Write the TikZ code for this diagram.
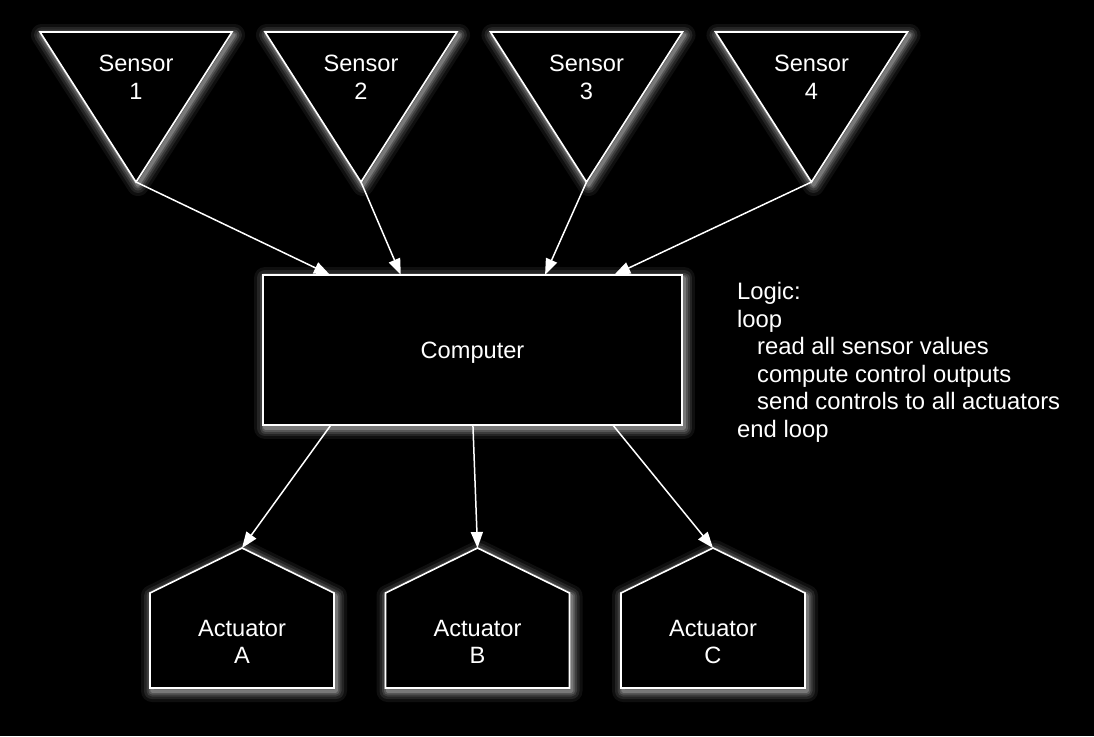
\documentclass[tikz,border=0pt]{standalone}
\usepackage{fontspec}
\setmainfont{Liberation Sans}
\usetikzlibrary{arrows.meta,calc}
\tikzset{
  shapeline/.style={draw=white, fill=black, line width=1.6pt, line join=miter},
  lbl/.style={text=white, font=\fontsize{23.6}{27.6}\selectfont, align=center, inner sep=0pt, text depth=0pt},
  conn/.style={draw=white, line width=1.5pt, -{Triangle[length=16pt,width=12pt]}},
}
\newcommand\glowshape[1]{%
  \foreach \gw/\go in {22/0.06,16/0.09,11/0.11,7/0.14,3.5/0.2}{%
    \draw[white, line width=\gw pt, opacity=\go, line join=round, shift={(2,3)}] #1;}%
  \draw[shapeline] #1;}
\newcommand\sensorshape[3]{% name, cx, number
  \glowshape{(#2-96,32) -- (#2+96,32) -- (#2,182) -- cycle}
  \coordinate (#1) at (#2,182);
  \node[lbl] (#1t) at (#2,77) {Sensor\\#3};}
\newcommand\actuatorshape[3]{% name, cx, letter
  \glowshape{(#2-92,688) -- (#2-92,593) -- (#2,548) -- (#2+92,593) -- (#2+92,688) -- cycle}
  \coordinate (#1) at (#2,548);
  \node[lbl] (#1t) at (#2,642) {Actuator\\#3};}
\begin{document}
\begin{tikzpicture}[x=1pt,y=-1pt]
\fill[black] (0,0) rectangle (1094,736);
\useasboundingbox (0,0) rectangle (1094,736);
% sensors
\sensorshape{s1}{136}{1}
\sensorshape{s2}{361}{2}
\sensorshape{s3}{586.5}{3}
\sensorshape{s4}{811.5}{4}
% computer
\glowshape{(263,275) rectangle (682,425)}
\node[lbl, minimum width=419pt, minimum height=150pt, text height=16pt] (comp) at (472.5,350) {Computer};
% actuators
\actuatorshape{a1}{242}{A}
\actuatorshape{a2}{477.5}{B}
\actuatorshape{a3}{713}{C}
% connectors
\draw[conn] (s1) -- ($(comp.north west)!0.160!(comp.north east)$);
\draw[conn] (s2) -- ($(comp.north west)!0.329!(comp.north east)$);
\draw[conn] (s3) -- ($(comp.north west)!0.673!(comp.north east)$);
\draw[conn] (s4) -- ($(comp.north west)!0.838!(comp.north east)$);
\draw[conn] ($(comp.south west)!0.162!(comp.south east)$) -- (a1);
\draw[conn] ($(comp.south west)!0.501!(comp.south east)$) -- (a2);
\draw[conn] ($(comp.south west)!0.835!(comp.south east)$) -- (a3);
% logic text
\node[text=white, font=\fontsize{23.8}{27.6}\selectfont, align=left, inner sep=0pt, anchor=north west] (logic) at (737,282)
  {Logic:\\loop\\\hspace*{20pt}read all sensor values\\\hspace*{20pt}compute control outputs\\\hspace*{20pt}send controls to all actuators\\end loop};
\end{tikzpicture}
\end{document}
